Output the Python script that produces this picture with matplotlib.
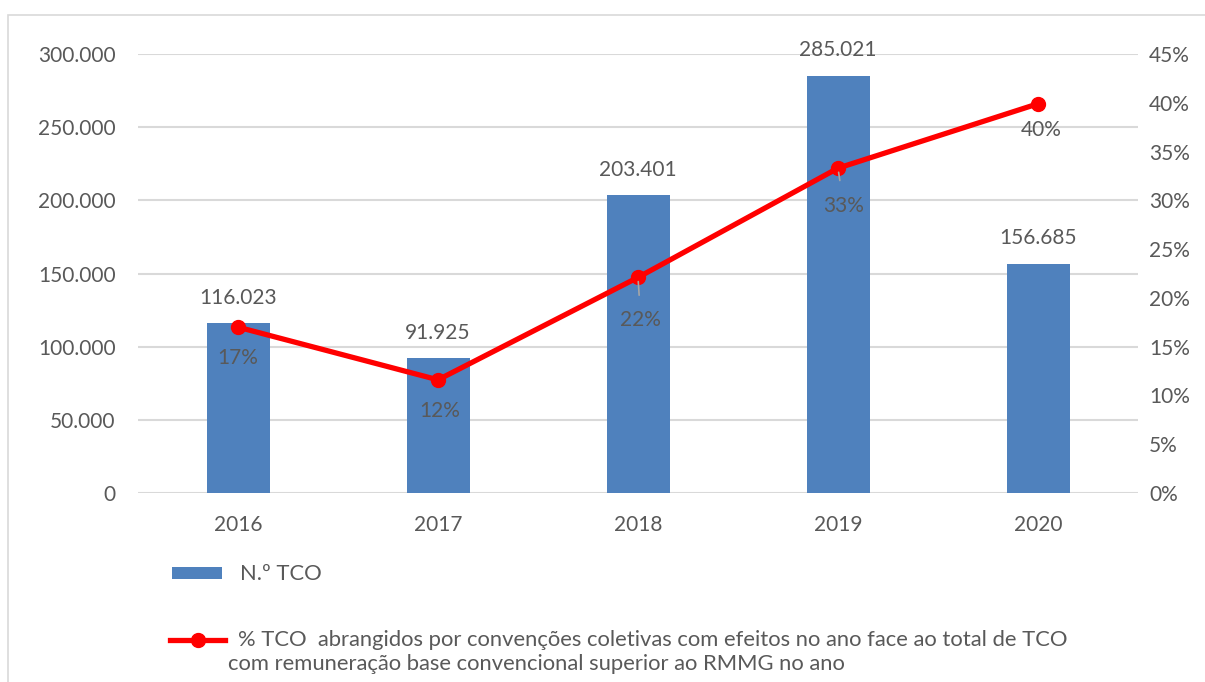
import matplotlib
matplotlib.use("Agg")
import matplotlib.pyplot as plt
from matplotlib.patches import Rectangle
from matplotlib.lines import Line2D

years = ["2016", "2017", "2018", "2019", "2020"]
n_tco = [116023, 91925, 203401, 285021, 156685]
pct_tco = [17.0, 11.6, 22.1, 33.3, 39.9]
pct_labels = ["17%", "12%", "22%", "33%", "40%"]
left_ticks = [0, 50000, 100000, 150000, 200000, 250000, 300000]
right_ticks = [0, 5, 10, 15, 20, 25, 30, 35, 40, 45]
bar_label_name = "N.º TCO"
line_label_lines = ["% TCO  abrangidos por convenções coletivas com efeitos no ano face ao total de TCO",
                    "com remuneração base convencional superior ao RMMG no ano"]

plt.rcParams['font.family'] = ['Lato', 'DejaVu Sans']
TXT = "#595959"
GRID = "#d9d9d9"
BAR = "#4f81bd"
RED = "#ff0000"
FS = 15
LFS = 15.8

W, H = 1205, 682
fig = plt.figure(figsize=(W / 100, H / 100), dpi=100)
fig.patches.append(Rectangle((8 / W, -0.1), 1.2, 1.1 - 15 / H, transform=fig.transFigure,
                             facecolor="none", edgecolor=GRID, linewidth=1.2, zorder=0))

ax = fig.add_axes([138 / W, 1 - 493 / H, 1000 / W, (493 - 54) / H])
x = list(range(len(years)))
ax.bar(x, n_tco, width=0.315, color=BAR, zorder=2)
ax.set_xlim(-0.5, len(years) - 0.5)
ax.set_ylim(0, 300000)
ax.set_yticks(left_ticks)
ax.set_yticklabels([f"{v:,}".replace(",", ".") for v in left_ticks])
ax.set_xticks(x)
ax.set_xticklabels(years)
ax.grid(axis="y", color=GRID, linewidth=1.5, zorder=0)
ax.set_axisbelow(True)
for s in ax.spines.values():
    s.set_visible(False)
ax.tick_params(axis="both", length=0, colors=TXT, labelsize=FS)
ax.tick_params(axis="y", pad=16)
ax.tick_params(axis="x", pad=16)

for xi, v in zip(x, n_tco):
    ax.annotate(f"{v:,}".replace(",", "."), (xi, v), xytext=(0, 18.5), textcoords="offset points",
                ha="center", va="center", fontsize=FS, color=TXT)

ax2 = ax.twinx()
ax2.set_ylim(0, 45)
ax2.set_yticks(right_ticks)
ax2.set_yticklabels([f"{v}%" for v in right_ticks])
for s in ax2.spines.values():
    s.set_visible(False)
ax2.tick_params(axis="y", length=0, colors=TXT, labelsize=FS, pad=8)
ax2.plot(x, pct_tco, color=RED, linewidth=3.8, marker="o", markersize=10, zorder=3)

offsets = [(0, -22.5), (1, -22.5), (2, -31), (4, -27), (2, -19)]
leader = [False, False, True, True, False]
for xi, v, lab, off, ld in zip(x, pct_tco, pct_labels, offsets, leader):
    kw = dict(xytext=off, textcoords="offset points", ha="center", va="center",
              fontsize=FS, color=TXT)
    if ld:
        kw["arrowprops"] = dict(arrowstyle="-", color="#a6a6a6", lw=1.2, shrinkA=9, shrinkB=3)
    ax2.annotate(lab, (xi, v), **kw)

# legend drawn manually
def fx(px):
    return px / W

def fy(py):
    return 1 - py / H

fig.patches.append(Rectangle((fx(172), fy(579)), fx(222) - fx(172), fy(567) - fy(579),
                             transform=fig.transFigure, facecolor=BAR, edgecolor="none"))
fig.text(fx(240), fy(574), bar_label_name, ha="left", va="center", fontsize=LFS, color=TXT)
fig.add_artist(Line2D([fx(170), fx(225)], [fy(640), fy(640)], transform=fig.transFigure,
                      color=RED, linewidth=3.8))
fig.add_artist(Line2D([fx(197.5)], [fy(640)], transform=fig.transFigure,
                      color=RED, marker="o", markersize=10, linestyle="none"))
fig.text(fx(238), fy(640), line_label_lines[0], ha="left", va="center", fontsize=LFS, color=TXT)
fig.text(fx(228), fy(664), line_label_lines[1], ha="left", va="center", fontsize=LFS, color=TXT)

fig.savefig("out.png", dpi=100)
